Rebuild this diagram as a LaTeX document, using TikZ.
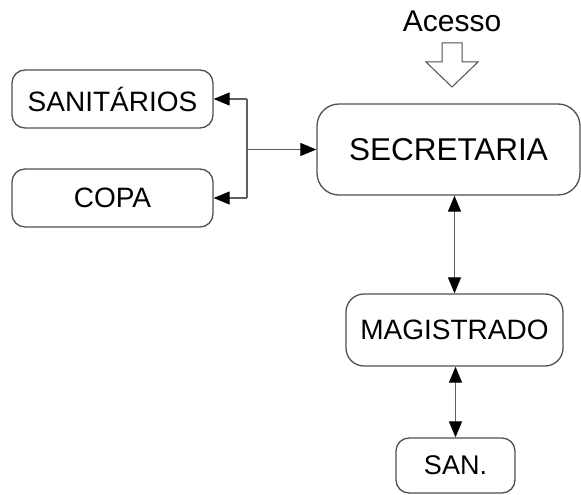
\documentclass[tikz,border=0pt]{standalone}
\usepackage{fontspec}
\setmainfont{Liberation Sans}
\usetikzlibrary{arrows.meta}
\definecolor{boxline}{HTML}{505050}
\definecolor{conline}{HTML}{606060}
\tikzset{
  roomnode/.style={draw=boxline, line width=1.3pt, rounded corners=13pt, align=center, inner sep=0pt, font=\fontsize{28}{32}\selectfont},
  conn/.style={draw=conline, line width=1.2pt},
  tip/.style={-{Triangle[length=16pt,width=13pt,fill=black,color=black]}},
  tips/.style={{Triangle[length=16pt,width=13pt,fill=black,color=black]}-{Triangle[length=16pt,width=13pt,fill=black,color=black]}},
}
\begin{document}
\begin{tikzpicture}[x=1pt,y=-1pt]
\useasboundingbox (0,0) rectangle (581,495);
\node[roomnode, minimum width=201pt, minimum height=58pt] (sani) at (112.5,99) {SANIT\'ARIOS};
\node[roomnode, minimum width=201pt, minimum height=58pt] (copa) at (112.5,198) {COPA};
\node[roomnode, rounded corners=22pt, minimum width=263pt, minimum height=91pt, font=\fontsize{31.5}{35}\selectfont] (sec) at (448.5,149.5) {SECRETARIA};
\node[roomnode, rounded corners=18pt, minimum width=217pt, minimum height=72pt] (mag) at (454.5,330) {MAGISTRADO};
\node[roomnode, minimum width=119pt, minimum height=55pt, font=\fontsize{27}{31}\selectfont] (san) at (455.5,465.5) {SAN.};
\node[font=\fontsize{30}{34}\selectfont, inner sep=0pt] (acesso) at (452,21) {Acesso};
% hollow access arrow
\draw[draw=boxline, line width=1pt, fill=white] (442,43) -- (462,43) -- (462,62) -- (478,62) -- (452,87) -- (426,62) -- (442,62) -- cycle;
% left connectors
\coordinate (jn) at (247,149.5);
\draw[conn] (jn |- sani.east) -- (jn |- copa.east);
\draw[conn, tip] (jn |- sani.east) -- (sani.east);
\draw[conn, tip] (jn |- copa.east) -- (copa.east);
\draw[conn, tip] (jn) -- (sec.west);
% vertical connectors
\draw[conn, tips] (sec.south -| mag.north) -- (mag.north);
\draw[conn, tips] (mag.south -| san.north) -- (san.north);
\end{tikzpicture}
\end{document}
